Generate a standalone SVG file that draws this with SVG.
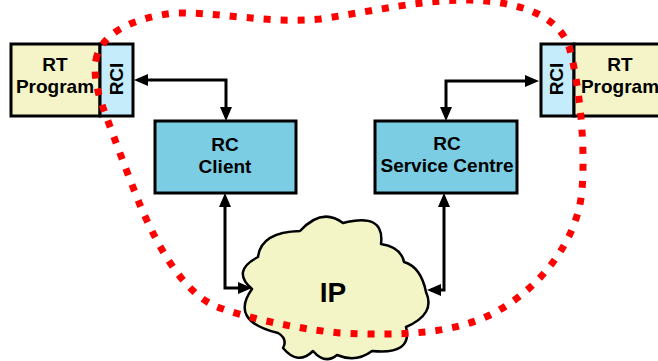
<svg xmlns="http://www.w3.org/2000/svg" width="658" height="361" viewBox="0 0 658 361">
  <style>
    .lbl { font-family: "Liberation Sans", Arial, sans-serif; font-weight: bold; font-size: 19px; fill: #000; text-anchor: middle; }
    .prog { fill: #f4f4c8; stroke: #000; stroke-width: 3; }
    .rci { fill: #c5ecfa; stroke: #000; stroke-width: 3; }
    .rc { fill: #7acde3; stroke: #000; stroke-width: 3; }
    .cloud { fill: #f3f5c6; stroke: #000; stroke-width: 2.5; stroke-linejoin: round; }
    .link { fill: none; stroke: #000; stroke-width: 3; marker-start: url(#head); marker-end: url(#head); }
    .zone { fill: none; stroke: #ff0000; stroke-width: 7; stroke-dasharray: 7 10; }
  </style>
  <defs>
    <marker id="head" markerUnits="userSpaceOnUse" markerWidth="14" markerHeight="12" refX="10" refY="6" orient="auto-start-reverse">
      <path d="M0,0 L14,6 L0,12 Z" fill="#000"/>
    </marker>
  </defs>

  <rect width="658" height="361" fill="#fff"/>

  <!-- RT program with its RCI, left -->
  <g id="rt-left">
    <rect class="prog" x="11" y="44" width="89" height="72"/>
    <rect class="rci" x="100" y="44" width="33" height="72"/>
    <text class="lbl" x="55" y="71">RT</text>
    <text class="lbl" x="55" y="93">Program</text>
    <text class="lbl" transform="translate(123,79) rotate(-90)">RCI</text>
  </g>

  <!-- RT program with its RCI, right -->
  <g id="rt-right">
    <rect class="rci" x="541" y="44" width="33" height="72"/>
    <rect class="prog" x="574" y="44" width="90" height="72"/>
    <text class="lbl" x="620" y="71">RT</text>
    <text class="lbl" x="620" y="93">Program</text>
    <text class="lbl" transform="translate(563,79) rotate(-90)">RCI</text>
  </g>

  <g id="rc-client">
    <rect class="rc" x="155" y="121" width="141" height="72"/>
    <text class="lbl" x="225" y="151">RC</text>
    <text class="lbl" x="225" y="173">Client</text>
  </g>

  <g id="rc-service-centre">
    <rect class="rc" x="375" y="121" width="142" height="72"/>
    <text class="lbl" x="447" y="150">RC</text>
    <text class="lbl" x="447" y="172">Service Centre</text>
  </g>

  <g id="ip-cloud">
    <path class="cloud" d="M252,289 Q231,271 258,257 Q261,232 300,231 Q322,207 343,223 Q385,212 381,244 Q401,247 404,262 Q421,267 426,292 Q436,314 406,327 Q413,355 372,351 Q356,363 337,355 Q325,365 313,351 Q298,366 283,348 Q288,339 278,333 Q229,321 252,289 Z"/>
    <text class="lbl" x="333" y="302" style="font-size:28px">IP</text>
  </g>

  <!-- connectors -->
  <g id="connectors">
    <polyline class="link" points="138,80 226,80 226,117"/>
    <polyline class="link" points="535,81 446,81 446,117"/>
    <polyline class="link" points="225,197 225,288 248,288"/>
    <polyline class="link" points="444,197 444,290 431,290"/>
  </g>

  <!-- dotted boundary around the RC domain -->
  <path id="rc-domain" class="zone" d="M96,60 C100,35 130,18 175,13 C220,12 270,24 320,19 C380,10 420,0 470,0 C520,2 560,15 570,50 C578,80 586,140 582,190 C578,240 540,290 490,315 C450,334 400,336 340,333 C290,328 240,316 215,306 C180,290 155,240 140,205 C128,175 115,140 105,113 C98,95 93,75 96,60 Z"/>
</svg>
